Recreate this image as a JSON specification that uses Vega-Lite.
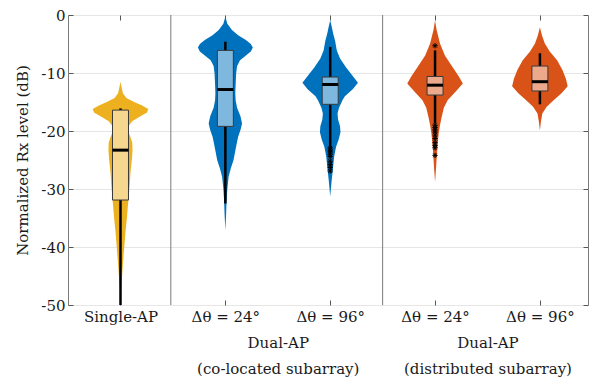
{
  "$schema": "https://vega.github.io/schema/vega-lite/v6.json",
  "width": 520,
  "height": 290,
  "autosize": "none",
  "padding": {"left": 68, "top": 15, "right": 1, "bottom": 83},
  "background": "white",
  "config": {
    "font": "DejaVu Serif",
    "view": {"stroke": "#7a7a7a", "strokeWidth": 1},
    "axis": {
      "labelFont": "DejaVu Serif",
      "titleFont": "DejaVu Serif",
      "labelColor": "#1a1a1a",
      "titleColor": "#1a1a1a",
      "domain": false,
      "tickColor": "#555555",
      "grid": false
    }
  },
  "datasets": {
    "violin": [
      {"g": "S", "y": -11.5, "lo": 1.0, "hi": 1.0},
      {"g": "S", "y": -12.5, "lo": 0.989, "hi": 1.011},
      {"g": "S", "y": -13.5, "lo": 0.977, "hi": 1.023},
      {"g": "S", "y": -14.3, "lo": 0.944, "hi": 1.056},
      {"g": "S", "y": -15.0, "lo": 0.869, "hi": 1.131},
      {"g": "S", "y": -15.6, "lo": 0.794, "hi": 1.206},
      {"g": "S", "y": -16.2, "lo": 0.735, "hi": 1.265},
      {"g": "S", "y": -16.8, "lo": 0.747, "hi": 1.253},
      {"g": "S", "y": -17.5, "lo": 0.813, "hi": 1.187},
      {"g": "S", "y": -18.3, "lo": 0.888, "hi": 1.112},
      {"g": "S", "y": -19.2, "lo": 0.925, "hi": 1.075},
      {"g": "S", "y": -20.0, "lo": 0.93, "hi": 1.07},
      {"g": "S", "y": -21.0, "lo": 0.906, "hi": 1.094},
      {"g": "S", "y": -22.0, "lo": 0.888, "hi": 1.112},
      {"g": "S", "y": -23.3, "lo": 0.885, "hi": 1.115},
      {"g": "S", "y": -25.0, "lo": 0.892, "hi": 1.108},
      {"g": "S", "y": -27.0, "lo": 0.904, "hi": 1.096},
      {"g": "S", "y": -29.0, "lo": 0.911, "hi": 1.089},
      {"g": "S", "y": -31.0, "lo": 0.92, "hi": 1.08},
      {"g": "S", "y": -33.0, "lo": 0.93, "hi": 1.07},
      {"g": "S", "y": -35.0, "lo": 0.939, "hi": 1.061},
      {"g": "S", "y": -37.5, "lo": 0.953, "hi": 1.047},
      {"g": "S", "y": -40.0, "lo": 0.964, "hi": 1.036},
      {"g": "S", "y": -42.5, "lo": 0.975, "hi": 1.025},
      {"g": "S", "y": -45.0, "lo": 0.985, "hi": 1.015},
      {"g": "S", "y": -47.4, "lo": 0.995, "hi": 1.005},
      {"g": "S", "y": -48.0, "lo": 1.0, "hi": 1.0},

      {"g": "B24", "y": -0.3, "lo": 2.0, "hi": 2.0},
      {"g": "B24", "y": -1.5, "lo": 1.981, "hi": 2.019},
      {"g": "B24", "y": -2.6, "lo": 1.937, "hi": 2.063},
      {"g": "B24", "y": -3.5, "lo": 1.878, "hi": 2.122},
      {"g": "B24", "y": -4.3, "lo": 1.804, "hi": 2.196},
      {"g": "B24", "y": -5.0, "lo": 1.757, "hi": 2.243},
      {"g": "B24", "y": -5.6, "lo": 1.738, "hi": 2.262},
      {"g": "B24", "y": -6.3, "lo": 1.757, "hi": 2.243},
      {"g": "B24", "y": -7.0, "lo": 1.804, "hi": 2.196},
      {"g": "B24", "y": -7.8, "lo": 1.86, "hi": 2.14},
      {"g": "B24", "y": -8.8, "lo": 1.888, "hi": 2.112},
      {"g": "B24", "y": -10.1, "lo": 1.897, "hi": 2.103},
      {"g": "B24", "y": -12.0, "lo": 1.902, "hi": 2.098},
      {"g": "B24", "y": -13.5, "lo": 1.905, "hi": 2.095},
      {"g": "B24", "y": -14.7, "lo": 1.902, "hi": 2.098},
      {"g": "B24", "y": -16.0, "lo": 1.888, "hi": 2.112},
      {"g": "B24", "y": -17.5, "lo": 1.855, "hi": 2.145},
      {"g": "B24", "y": -18.7, "lo": 1.841, "hi": 2.159},
      {"g": "B24", "y": -19.8, "lo": 1.855, "hi": 2.145},
      {"g": "B24", "y": -21.0, "lo": 1.878, "hi": 2.122},
      {"g": "B24", "y": -22.1, "lo": 1.891, "hi": 2.109},
      {"g": "B24", "y": -23.5, "lo": 1.906, "hi": 2.094},
      {"g": "B24", "y": -25.0, "lo": 1.922, "hi": 2.078},
      {"g": "B24", "y": -26.5, "lo": 1.949, "hi": 2.051},
      {"g": "B24", "y": -27.9, "lo": 1.969, "hi": 2.031},
      {"g": "B24", "y": -30.0, "lo": 1.981, "hi": 2.019},
      {"g": "B24", "y": -32.0, "lo": 1.988, "hi": 2.012},
      {"g": "B24", "y": -34.5, "lo": 1.993, "hi": 2.007},
      {"g": "B24", "y": -37.1, "lo": 2.0, "hi": 2.0},

      {"g": "B96", "y": -0.9, "lo": 3.0, "hi": 3.0},
      {"g": "B96", "y": -2.0, "lo": 2.986, "hi": 3.014},
      {"g": "B96", "y": -3.2, "lo": 2.972, "hi": 3.028},
      {"g": "B96", "y": -4.5, "lo": 2.953, "hi": 3.047},
      {"g": "B96", "y": -6.1, "lo": 2.937, "hi": 3.063},
      {"g": "B96", "y": -7.5, "lo": 2.906, "hi": 3.094},
      {"g": "B96", "y": -9.0, "lo": 2.85, "hi": 3.15},
      {"g": "B96", "y": -10.5, "lo": 2.785, "hi": 3.215},
      {"g": "B96", "y": -11.7, "lo": 2.735, "hi": 3.265},
      {"g": "B96", "y": -12.8, "lo": 2.785, "hi": 3.215},
      {"g": "B96", "y": -14.0, "lo": 2.86, "hi": 3.14},
      {"g": "B96", "y": -14.7, "lo": 2.883, "hi": 3.117},
      {"g": "B96", "y": -16.0, "lo": 2.916, "hi": 3.084},
      {"g": "B96", "y": -17.0, "lo": 2.93, "hi": 3.07},
      {"g": "B96", "y": -18.0, "lo": 2.925, "hi": 3.075},
      {"g": "B96", "y": -19.2, "lo": 2.906, "hi": 3.094},
      {"g": "B96", "y": -20.2, "lo": 2.902, "hi": 3.098},
      {"g": "B96", "y": -21.5, "lo": 2.92, "hi": 3.08},
      {"g": "B96", "y": -22.7, "lo": 2.944, "hi": 3.056},
      {"g": "B96", "y": -24.5, "lo": 2.963, "hi": 3.037},
      {"g": "B96", "y": -26.2, "lo": 2.972, "hi": 3.028},
      {"g": "B96", "y": -28.5, "lo": 2.986, "hi": 3.014},
      {"g": "B96", "y": -31.3, "lo": 3.0, "hi": 3.0},

      {"g": "O24", "y": -0.9, "lo": 4.0, "hi": 4.0},
      {"g": "O24", "y": -2.5, "lo": 3.986, "hi": 4.014},
      {"g": "O24", "y": -4.9, "lo": 3.953, "hi": 4.047},
      {"g": "O24", "y": -7.0, "lo": 3.906, "hi": 4.094},
      {"g": "O24", "y": -9.0, "lo": 3.832, "hi": 4.168},
      {"g": "O24", "y": -10.5, "lo": 3.776, "hi": 4.224},
      {"g": "O24", "y": -11.8, "lo": 3.735, "hi": 4.265},
      {"g": "O24", "y": -13.0, "lo": 3.794, "hi": 4.206},
      {"g": "O24", "y": -14.7, "lo": 3.88, "hi": 4.12},
      {"g": "O24", "y": -16.0, "lo": 3.916, "hi": 4.084},
      {"g": "O24", "y": -17.6, "lo": 3.937, "hi": 4.063},
      {"g": "O24", "y": -19.0, "lo": 3.953, "hi": 4.047},
      {"g": "O24", "y": -20.4, "lo": 3.965, "hi": 4.035},
      {"g": "O24", "y": -22.5, "lo": 3.977, "hi": 4.023},
      {"g": "O24", "y": -24.5, "lo": 3.984, "hi": 4.016},
      {"g": "O24", "y": -26.5, "lo": 3.991, "hi": 4.009},
      {"g": "O24", "y": -28.8, "lo": 4.0, "hi": 4.0},

      {"g": "O96", "y": -2.1, "lo": 5.0, "hi": 5.0},
      {"g": "O96", "y": -3.5, "lo": 4.981, "hi": 5.019},
      {"g": "O96", "y": -4.9, "lo": 4.953, "hi": 5.047},
      {"g": "O96", "y": -6.3, "lo": 4.906, "hi": 5.094},
      {"g": "O96", "y": -7.8, "lo": 4.836, "hi": 5.164},
      {"g": "O96", "y": -9.5, "lo": 4.785, "hi": 5.215},
      {"g": "O96", "y": -11.0, "lo": 4.752, "hi": 5.248},
      {"g": "O96", "y": -12.3, "lo": 4.735, "hi": 5.265},
      {"g": "O96", "y": -13.5, "lo": 4.794, "hi": 5.206},
      {"g": "O96", "y": -14.7, "lo": 4.869, "hi": 5.131},
      {"g": "O96", "y": -15.8, "lo": 4.935, "hi": 5.065},
      {"g": "O96", "y": -17.0, "lo": 4.977, "hi": 5.023},
      {"g": "O96", "y": -18.5, "lo": 4.991, "hi": 5.009},
      {"g": "O96", "y": -19.9, "lo": 5.0, "hi": 5.0}
    ],
    "box": [
      {"g": "S", "pos": 1, "q1": -31.9, "q3": -16.4, "med": -23.3, "wlo": -50, "whi": -16.1},
      {"g": "B24", "pos": 2, "q1": -19.2, "q3": -6.1, "med": -12.85, "wlo": -32.5, "whi": -4.6},
      {"g": "B96", "pos": 3, "q1": -15.4, "q3": -10.7, "med": -12.0, "wlo": -22.7, "whi": -5.5},
      {"g": "O24", "pos": 4, "q1": -13.8, "q3": -10.6, "med": -12.1, "wlo": -18.7, "whi": -6.1},
      {"g": "O96", "pos": 5, "q1": -13.1, "q3": -8.8, "med": -11.5, "wlo": -15.4, "whi": -6.6}
    ],
    "outliers": [
      {"pos": 3, "y": -22.9}, {"pos": 3, "y": -23.3}, {"pos": 3, "y": -23.6}, {"pos": 3, "y": -24.0},
      {"pos": 3, "y": -24.4}, {"pos": 3, "y": -25.2}, {"pos": 3, "y": -25.8}, {"pos": 3, "y": -26.3}, {"pos": 3, "y": -26.9},
      {"pos": 4, "y": -5.3}, {"pos": 4, "y": -19.0}, {"pos": 4, "y": -19.4}, {"pos": 4, "y": -19.8}, {"pos": 4, "y": -20.2},
      {"pos": 4, "y": -20.7}, {"pos": 4, "y": -21.3}, {"pos": 4, "y": -22.0}, {"pos": 4, "y": -22.5}, {"pos": 4, "y": -22.9}, {"pos": 4, "y": -24.2}
    ],
    "seps": [{"x": 1.48}, {"x": 3.5}]
  },
  "resolve": {"axis": {"x": "independent", "y": "independent"}},
  "layer": [
    {
      "data": {"name": "violin"},
      "mark": {"type": "area", "orient": "horizontal", "opacity": 1},
      "encoding": {
        "y": {
          "field": "y", "type": "quantitative",
          "scale": {"domain": [-50, 0], "nice": false, "zero": false},
          "axis": {
            "orient": "left",
            "values": [-50, -40, -30, -20, -10, 0],
            "labelExpr": "'' + datum.value",
            "labelFont": "DejaVu Serif",
            "labelFontSize": 15,
            "labelPadding": 8,
            "tickSize": -5,
            "grid": true,
            "gridColor": "#e6e6e6",
            "gridWidth": 1,
            "title": "Normalized Rx level (dB)",
            "titleFont": "DejaVu Serif",
            "titleFontSize": 15,
            "titleFontWeight": "normal",
            "titlePadding": 10
          }
        },
        "x": {
          "field": "lo", "type": "quantitative",
          "scale": {"domain": [0.547, 5.411], "nice": false, "zero": false},
          "axis": {
            "orient": "bottom",
            "values": [1, 2, 2.5, 3, 4, 4.5, 5],
            "labelExpr": "datum.value == 1 ? 'Single-AP' : (datum.value == 2 || datum.value == 4) ? 'Δθ = 24°' : (datum.value == 3 || datum.value == 5) ? 'Δθ = 96°' : datum.value == 2.5 ? ['', 'Dual-AP', '(co-located subarray)'] : ['', 'Dual-AP', '(distributed subarray)']",
            "labelFont": "DejaVu Serif",
            "labelFontSize": 15,
            "labelLineHeight": 26,
            "labelOverlap": false,
            "labelFlush": false,
            "labelBound": false,
            "labelPadding": 9,
            "tickSize": -5,
            "tickOpacity": {"condition": {"test": "datum.value % 1 != 0", "value": 0}, "value": 1},
            "title": null
          }
        },
        "x2": {"field": "hi"},
        "color": {
          "field": "g", "type": "nominal", "legend": null,
          "scale": {"domain": ["S", "B24", "B96", "O24", "O96"], "range": ["#EDB120", "#0072BD", "#0072BD", "#D95319", "#D95319"]}
        },
        "detail": {"field": "g"}
      }
    },
    {
      "data": {"name": "seps"},
      "mark": {"type": "rule", "color": "#7a7a7a", "strokeWidth": 1},
      "encoding": {
        "x": {
          "field": "x", "type": "quantitative",
          "axis": {"orient": "top", "values": [1, 2, 3, 4, 5], "labels": false, "tickSize": -5, "title": null}
        }
      }
    },
    {
      "data": {"name": "box"},
      "mark": {"type": "rule", "color": "black", "strokeWidth": 2.5},
      "encoding": {
        "x": {"field": "pos", "type": "quantitative", "axis": null},
        "y": {"field": "wlo", "type": "quantitative",
          "axis": {"orient": "right", "values": [-50, -40, -30, -20, -10, 0], "labels": false, "tickSize": -5, "title": null, "grid": false}},
        "y2": {"field": "whi"}
      }
    },
    {
      "data": {"name": "box"},
      "mark": {"type": "bar", "orient": "vertical", "size": 16, "stroke": "#3a3a3a", "strokeWidth": 1},
      "encoding": {
        "x": {"field": "pos", "type": "quantitative", "axis": null},
        "y": {"field": "q1", "type": "quantitative", "axis": null},
        "y2": {"field": "q3"},
        "fill": {
          "field": "g", "type": "nominal", "legend": null,
          "scale": {"domain": ["S", "B24", "B96", "O24", "O96"], "range": ["#F6D78F", "#7FB8DE", "#7FB8DE", "#ECA98C", "#ECA98C"]}
        }
      }
    },
    {
      "data": {"name": "box"},
      "mark": {"type": "tick", "orient": "horizontal", "size": 16, "thickness": 3, "color": "black", "opacity": 1},
      "encoding": {
        "x": {"field": "pos", "type": "quantitative", "axis": null},
        "y": {"field": "med", "type": "quantitative", "axis": null}
      }
    },
    {
      "data": {"name": "outliers"},
      "mark": {"type": "point", "shape": "M-1,0L1,0M0,-1L0,1M-0.7,-0.7L0.7,0.7M-0.7,0.7L0.7,-0.7", "filled": false, "stroke": "black", "strokeWidth": 1, "size": 28, "opacity": 1},
      "encoding": {
        "x": {"field": "pos", "type": "quantitative", "axis": null},
        "y": {"field": "y", "type": "quantitative", "axis": null}
      }
    }
  ]
}
